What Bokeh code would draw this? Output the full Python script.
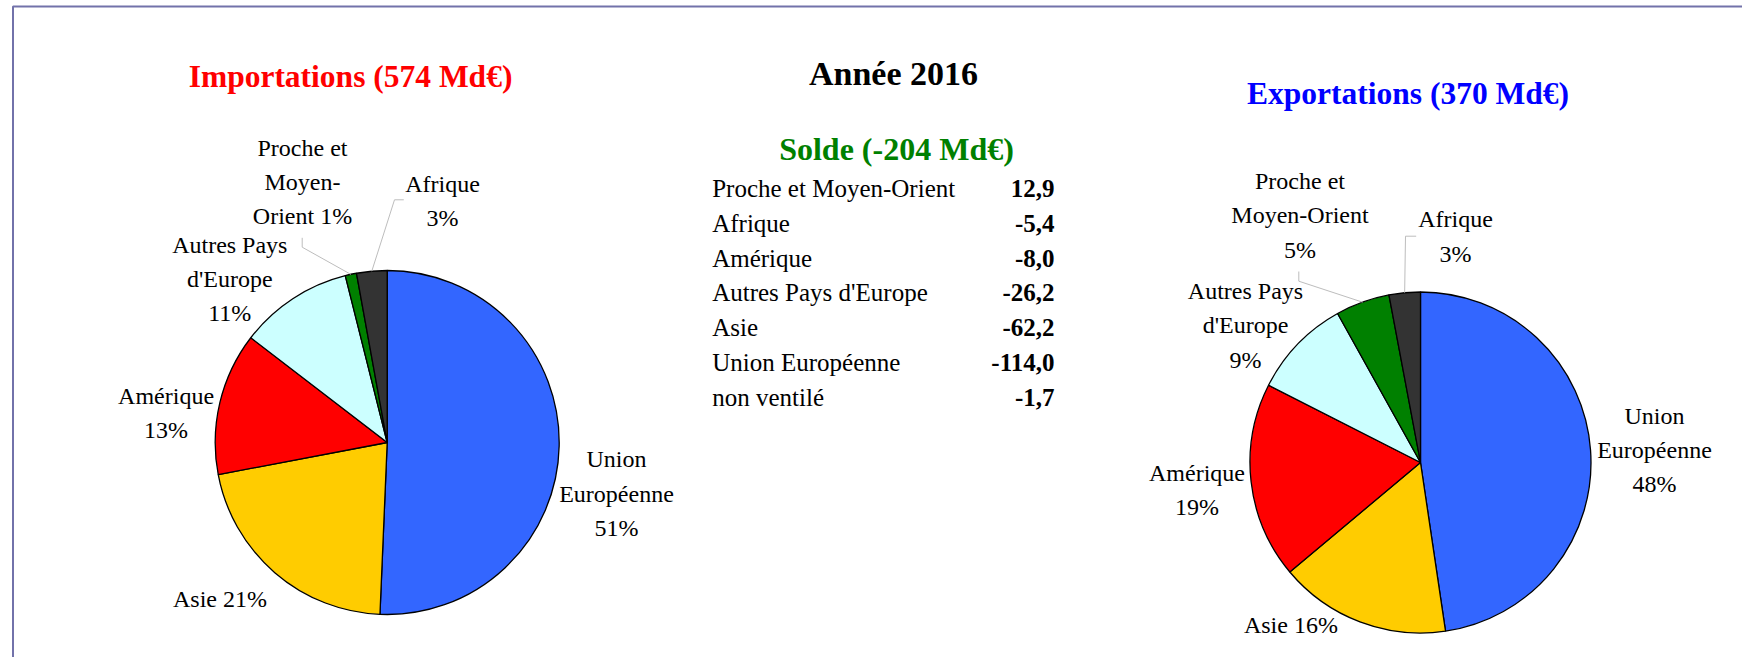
import numpy as np
from bokeh.plotting import figure
from bokeh.models import ColumnDataSource, Range1d
from bokeh.core.properties import value
from bokeh.embed import file_html
from bokeh.resources import INLINE

# ---------------- data ----------------
regions = ["Union Européenne", "Asie", "Amérique", "Autres Pays d'Europe",
           "Proche et Moyen-Orient", "Afrique"]
colors = ["#3366ff", "#ffcc00", "#ff0000", "#ccffff", "#008000", "#333333"]
imports_mde = [290.9, 122.5, 77.0, 61.2, 6.1, 16.4]   # Md€ (estimated)
exports_mde = [176.9, 60.3, 69.0, 35.0, 19.0, 11.0]   # Md€ (estimated)

solde_regions = ["Proche et Moyen-Orient", "Afrique", "Amérique",
                 "Autres Pays d'Europe", "Asie", "Union Européenne", "non ventilé"]
solde_values = [12.9, -5.4, -8.0, -26.2, -62.2, -114.0, -1.7]

title_year = "Année 2016"
title_imp = "Importations (574 Md€)"
title_exp = "Exportations (370 Md€)"
title_solde = "Solde (-204 Md€)"

imp_lines = [["Union", "Européenne", "{p}%"], ["Asie {p}%"], ["Amérique", "{p}%"],
             ["Autres Pays", "d'Europe", "{p}%"], ["Proche et", "Moyen-", "Orient {p}%"],
             ["Afrique", "{p}%"]]
exp_lines = [["Union", "Européenne", "{p}%"], ["Asie {p}%"], ["Amérique", "{p}%"],
             ["Autres Pays", "d'Europe", "{p}%"], ["Proche et", "Moyen-Orient", "{p}%"],
             ["Afrique", "{p}%"]]

# ---------------- layout (page pixel coords) ----------------
W, H = 1742, 657
FONT = "Liberation Serif"
TSHIFT = 8  # text vertical correction


def Y(py):
    return H - py


p = figure(width=W, height=H, output_backend="svg", toolbar_location=None,
           x_range=Range1d(0, W), y_range=Range1d(0, H),
           x_axis_type=None, y_axis_type=None, min_border=0)
p.outline_line_color = None
p.grid.visible = False
p.background_fill_color = "white"
p.border_fill_color = "white"

# frame
p.line(x=[12.5, 12.5, 1800], y=[Y(720), Y(6), Y(6)], line_color="#7272aa", line_width=2)


def draw_pie(vals, cx, cy, r, lines, anchors, leaders):
    vals = np.array(vals, dtype=float)
    frac = vals / vals.sum()
    cum = np.cumsum(frac)
    prev = cum - frac
    start = np.pi / 2 - prev * 2 * np.pi
    end = np.pi / 2 - cum * 2 * np.pi
    src = ColumnDataSource(dict(start=start, end=end, color=colors, region=regions))
    p.wedge(x=cx, y=Y(cy), radius=r, start_angle="start", end_angle="end",
            direction="clock", fill_color="color", line_color="black",
            line_width=1.3, source=src)
    pct = [int(round(f * 100)) for f in frac]
    xs, ys, ts = [], [], []
    for i, (ax, ay) in enumerate(anchors):
        for k, ln in enumerate(lines[i]):
            xs.append(ax)
            ys.append(Y(ay - TSHIFT + k * 34.4))
            ts.append(ln.format(p=pct[i]))
    p.text(x=xs, y=ys, text=ts, text_font=value(FONT), text_font_size=value("24px"),
           text_align="center", text_baseline="alphabetic", text_color="black")
    mid = (prev + frac / 2) * 2 * np.pi
    for idx, pts in leaders.items():
        ex = cx + r * np.sin(mid[idx])
        ey = cy - r * np.cos(mid[idx])
        lx = [q[0] for q in pts] + [ex]
        ly = [Y(q[1]) for q in pts] + [Y(ey)]
        p.line(x=lx, y=ly, line_color="#bdbdbd", line_width=1)


imp_anchors = [(616, 466.7), (219.5, 606.5), (165.6, 403), (229.3, 252),
               (302, 155), (442, 191)]
exp_anchors = [(1654, 423), (1290.4, 632.5), (1196.5, 480.5), (1245, 298.5),
               (1299.5, 188.3), (1455, 226.7)]

draw_pie(imports_mde, 386.7, 442, 172, imp_lines, imp_anchors,
         {4: [(301.7, 237.3), (301.7, 246.7)], 5: [(403.3, 199.3), (394, 199.3)]})
draw_pie(exports_mde, 1420, 462, 170.5, exp_lines, exp_anchors,
         {4: [(1298.3, 271), (1298.3, 280.7)], 5: [(1415.7, 235.7), (1405, 235.7)]})

# titles
def title(txt, x, y, size, color):
    p.text(x=[x], y=[Y(y)], text=[txt], text_font=value(FONT),
           text_font_size=value(size), text_font_style="bold", text_color=color,
           text_align="center", text_baseline="alphabetic")


title(title_imp, 350, 75.5, "31.5px", "#ff0000")
title(title_exp, 1407.5, 92.5, "31.5px", "#0000ff")
title(title_year, 893, 72.5, "34px", "black")
title(title_solde, 896, 148, "32px", "#008000")

# solde table
row_y = [Y(188 + k * 34.8) for k in range(len(solde_regions))]
tsrc = ColumnDataSource(dict(
    y=row_y, label=solde_regions,
    val=[f"{v:.1f}".replace(".", ",") for v in solde_values]))
p.text(x=711.7, y="y", text="label", source=tsrc, text_font=value(FONT),
       text_font_size=value("25px"), text_align="left", text_baseline="alphabetic",
       text_color="black")
p.text(x=1054, y="y", text="val", source=tsrc, text_font=value(FONT),
       text_font_size=value("25px"), text_font_style="bold", text_align="right",
       text_baseline="alphabetic", text_color="black")

open("out.html", "w").write(file_html(p, INLINE))
